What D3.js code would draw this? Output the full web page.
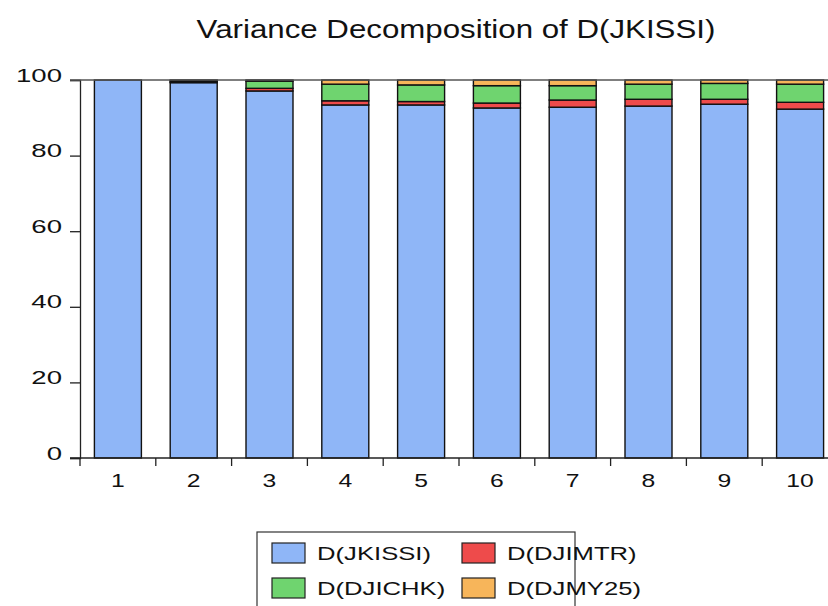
<!DOCTYPE html>
<html>
<head>
<meta charset="utf-8">
<script src="https://cdn.jsdelivr.net/npm/d3@7"></script>
<style>
  body { margin: 0; background: #fff; }
  text { font-family: "Liberation Sans", Arial, sans-serif; fill: #111; }
</style>
</head>
<body>
<div id="canvas"></div>
<script>
"use strict"

/* Data */
let periods = ["1", "2", "3", "4", "5", "6", "7", "8", "9", "10"];
let jkissi = [100, 99.3, 97.1, 93.4, 93.4, 92.6, 92.8, 93.1, 93.6, 92.3];
let djimtr = [0, 0.2, 0.7, 1.1, 0.9, 1.3, 1.9, 1.8, 1.3, 1.8];
let djichk = [0, 0.3, 1.9, 4.4, 4.4, 4.6, 3.8, 4.0, 4.2, 4.8];
let djmy25 = [0, 0.2, 0.3, 1.1, 1.3, 1.5, 1.5, 1.1, 0.9, 1.1];
let seriesNames = ["D(JKISSI)", "D(DJIMTR)", "D(DJICHK)", "D(DJMY25)"];
let yTicks = [0, 20, 40, 60, 80, 100];

/* Drawing config */
let svgWidth = 828;
let svgHeight = 606;
let colors = ["#8fb6f7", "#ee4b4b", "#6fd46f", "#f7b55a"];

let svg = d3.select("#canvas")
    .append("svg")
    .attr("width", svgWidth)
    .attr("height", svgHeight);

// text in the source is stretched sideways, so widen each label
function stretch(sel, sx) {
    sel.each(function() {
        let w = this.getComputedTextLength();
        d3.select(this)
            .attr("textLength", w * sx)
            .attr("lengthAdjust", "spacingAndGlyphs");
    });
}

let table = periods.map(function(p, i) {
    return { period: p, s0: jkissi[i], s1: djimtr[i], s2: djichk[i], s3: djmy25[i] };
});

let stacked = d3.stack().keys(["s0", "s1", "s2", "s3"])(table);

let xScale = d3.scaleBand()
    .domain(periods)
    .range([80, 838])
    .paddingInner(0.38)
    .paddingOuter(0.19);

let yScale = d3.scaleLinear()
    .domain([0, 100])
    .range([458, 80]);

/* bars */
svg.selectAll("g.layer")
    .data(stacked)
    .join("g")
    .attr("class", "layer")
    .attr("fill", function(d, i) { return colors[i]; })
    .selectAll("rect")
    .data(function(d) { return d; })
    .join("rect")
    .attr("x", function(d) { return xScale(d.data.period); })
    .attr("y", function(d) { return yScale(d[1]); })
    .attr("width", xScale.bandwidth())
    .attr("height", function(d) { return yScale(d[0]) - yScale(d[1]); })
    .attr("stroke", "#111")
    .attr("stroke-width", 1.4);

/* y axis */
let yAxis = svg.append("g")
    .attr("transform", "translate(80,0)")
    .call(d3.axisLeft(yScale).tickValues(yTicks).tickSize(10).tickPadding(8));
yAxis.select(".domain").attr("stroke", "#222").attr("stroke-width", 1.3);
yAxis.selectAll(".tick line").attr("stroke", "#222").attr("stroke-width", 1.3);
yAxis.selectAll(".tick text")
    .attr("dy", "0")
    .attr("y", 1)
    .style("font-size", "19px")
    .call(stretch, 1.45);

/* frame top and bottom */
svg.append("line")
    .attr("x1", 70).attr("x2", 838)
    .attr("y1", yScale(100)).attr("y2", yScale(100))
    .attr("stroke", "#555").attr("stroke-width", 1.3);
svg.append("line")
    .attr("x1", 70).attr("x2", 838)
    .attr("y1", yScale(0)).attr("y2", yScale(0))
    .attr("stroke", "#222").attr("stroke-width", 1.5);

/* x ticks sit between the bars */
let gap = xScale.step() * xScale.paddingInner() / 2;
let boundaries = periods.map(function(p) { return xScale(p) - gap; });
boundaries.push(xScale(periods[periods.length - 1]) + xScale.bandwidth() + gap);

svg.selectAll("line.xtick")
    .data(boundaries)
    .join("line")
    .attr("class", "xtick")
    .attr("x1", function(d) { return d; })
    .attr("x2", function(d) { return d; })
    .attr("y1", yScale(0))
    .attr("y2", yScale(0) + 8)
    .attr("stroke", "#222")
    .attr("stroke-width", 1.3);

svg.selectAll("text.xlabel")
    .data(periods)
    .join("text")
    .attr("class", "xlabel")
    .attr("x", function(d) { return xScale(d) + xScale.bandwidth() / 2; })
    .attr("y", 487)
    .attr("text-anchor", "middle")
    .style("font-size", "19px")
    .text(function(d) { return d; })
    .call(stretch, 1.3);

/* title */
svg.append("text")
    .attr("x", 456)
    .attr("y", 38)
    .attr("text-anchor", "middle")
    .style("font-size", "25px")
    .text("Variance Decomposition of D(JKISSI)")
    .call(stretch, 1.25);

/* legend */
let legX = 257, legY = 532;
svg.append("rect")
    .attr("x", legX).attr("y", legY)
    .attr("width", 318).attr("height", 90)
    .attr("fill", "none")
    .attr("stroke", "#333")
    .attr("stroke-width", 1.2);

let legItems = svg.selectAll("g.leg")
    .data(seriesNames)
    .join("g")
    .attr("class", "leg")
    .attr("transform", function(d, i) {
        let col = i % 2, row = Math.floor(i / 2);
        return "translate(" + (legX + 15 + col * 190) + "," + (legY + 11 + row * 35) + ")";
    });

legItems.append("rect")
    .attr("width", 33)
    .attr("height", 20)
    .attr("fill", function(d, i) { return colors[i]; })
    .attr("stroke", "#222")
    .attr("stroke-width", 1.2);

legItems.append("text")
    .attr("x", 45)
    .attr("y", 17)
    .style("font-size", "19px")
    .text(function(d) { return d; })
    .call(stretch, 1.35);
</script>
</body>
</html>
